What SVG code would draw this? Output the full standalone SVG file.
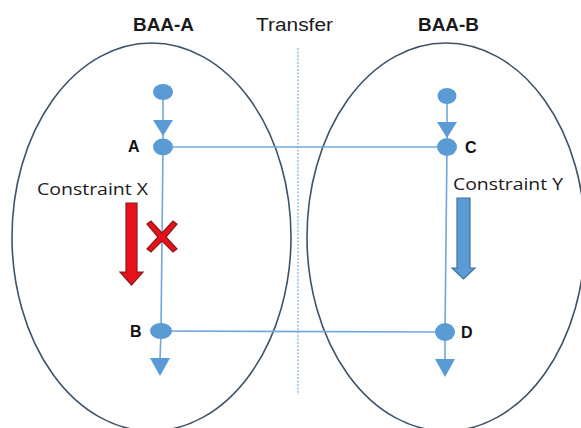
<svg xmlns="http://www.w3.org/2000/svg" width="581" height="428" viewBox="0 0 581 428">
  <style>
    .zone { fill: none; stroke: #3E5268; stroke-width: 1.6; }
    .flow { fill: none; stroke: #6FA8DC; stroke-width: 1.6; }
    .divider { fill: none; stroke: #8DBBE6; stroke-width: 1.4; stroke-dasharray: 2 1.5; }
    .dot { fill: #5B9BD5; }
    .tip { fill: #5B9BD5; }
    .title { font-family: "Liberation Sans", Arial, sans-serif; font-size: 18px; fill: #1a1a1a; }
    .bold { font-weight: bold; }
    .lbl { font-family: "Liberation Sans", Arial, sans-serif; font-size: 16px; font-weight: bold; fill: #111; }
    .note { font-family: "Open Sans", "Liberation Sans", sans-serif; font-size: 16px; fill: #1a1a1a; }
  </style>

  <rect width="581" height="428" fill="#ffffff"/>

  <!-- headings -->
  <text class="title bold" x="133" y="31" textLength="61" lengthAdjust="spacingAndGlyphs">BAA-A</text>
  <text class="title" x="256" y="31" textLength="77" lengthAdjust="spacingAndGlyphs">Transfer</text>
  <text class="title bold" x="418" y="31" textLength="61" lengthAdjust="spacingAndGlyphs">BAA-B</text>

  <!-- domain boundaries -->
  <g id="baa-a">
    <ellipse class="zone" cx="151.5" cy="237" rx="139.5" ry="194"/>
  </g>
  <g id="baa-b">
    <ellipse class="zone" cx="446" cy="237" rx="139" ry="194"/>
  </g>
  <line class="divider" x1="298" y1="48" x2="298" y2="395"/>

  <!-- connectors -->
  <g id="connectors">
    <line class="flow" x1="163" y1="92" x2="163" y2="147"/>
    <line class="flow" x1="163" y1="147" x2="161" y2="331"/>
    <line class="flow" x1="161" y1="331" x2="160" y2="360"/>
    <line class="flow" x1="163" y1="147" x2="447" y2="147"/>
    <line class="flow" x1="161" y1="331" x2="445" y2="332"/>
    <line class="flow" x1="447" y1="96" x2="447" y2="147"/>
    <line class="flow" x1="447" y1="147" x2="445" y2="332"/>
    <line class="flow" x1="445" y1="332" x2="445" y2="360"/>
    <polygon class="tip" points="153,120 173,120 163,136"/>
    <polygon class="tip" points="437,122 457,122 447,138"/>
    <polygon class="tip" points="150,358 170,358 160,376"/>
    <polygon class="tip" points="435,359 455,359 445,377"/>
  </g>

  <!-- nodes -->
  <g id="start-a"><ellipse class="dot" cx="163" cy="92" rx="10" ry="8"/></g>
  <g id="node-a">
    <ellipse class="dot" cx="163" cy="147" rx="10" ry="8.5"/>
    <text class="lbl" x="128" y="152">A</text>
  </g>
  <g id="node-b">
    <ellipse class="dot" cx="161" cy="331" rx="11" ry="8"/>
    <text class="lbl" x="130" y="337">B</text>
  </g>
  <g id="start-c"><ellipse class="dot" cx="447" cy="96" rx="9.5" ry="8"/></g>
  <g id="node-c">
    <ellipse class="dot" cx="447" cy="147" rx="10" ry="9"/>
    <text class="lbl" x="465" y="153">C</text>
  </g>
  <g id="node-d">
    <ellipse class="dot" cx="445" cy="332" rx="10" ry="9"/>
    <text class="lbl" x="461" y="338">D</text>
  </g>

  <!-- constraint on the BAA-A side: blocked -->
  <g id="constraint-x">
    <text class="note" x="37" y="195" textLength="111" lengthAdjust="spacingAndGlyphs">Constraint X</text>
    <polygon points="126,203 137,203 137,272 143,272 131.5,285 120,272 126,272" fill="#E8101A" stroke="#8B1A1A" stroke-width="1.2"/>
    <path d="M147,224 L151,221 L162,233 L173,221 L177,224 L166,237 L177,249 L173,252 L162,241 L151,252 L147,249 L158,237 Z" fill="#E8101A" stroke="#8B1A1A" stroke-width="1.2"/>
  </g>

  <!-- constraint on the BAA-B side -->
  <g id="constraint-y">
    <text class="note" x="453" y="190" textLength="110" lengthAdjust="spacingAndGlyphs">Constraint Y</text>
    <polygon points="457,198 470,198 470,268 475,268 463.5,279 452,268 457,268" fill="#5B9BD5" stroke="#41719C" stroke-width="1.2"/>
  </g>
</svg>
